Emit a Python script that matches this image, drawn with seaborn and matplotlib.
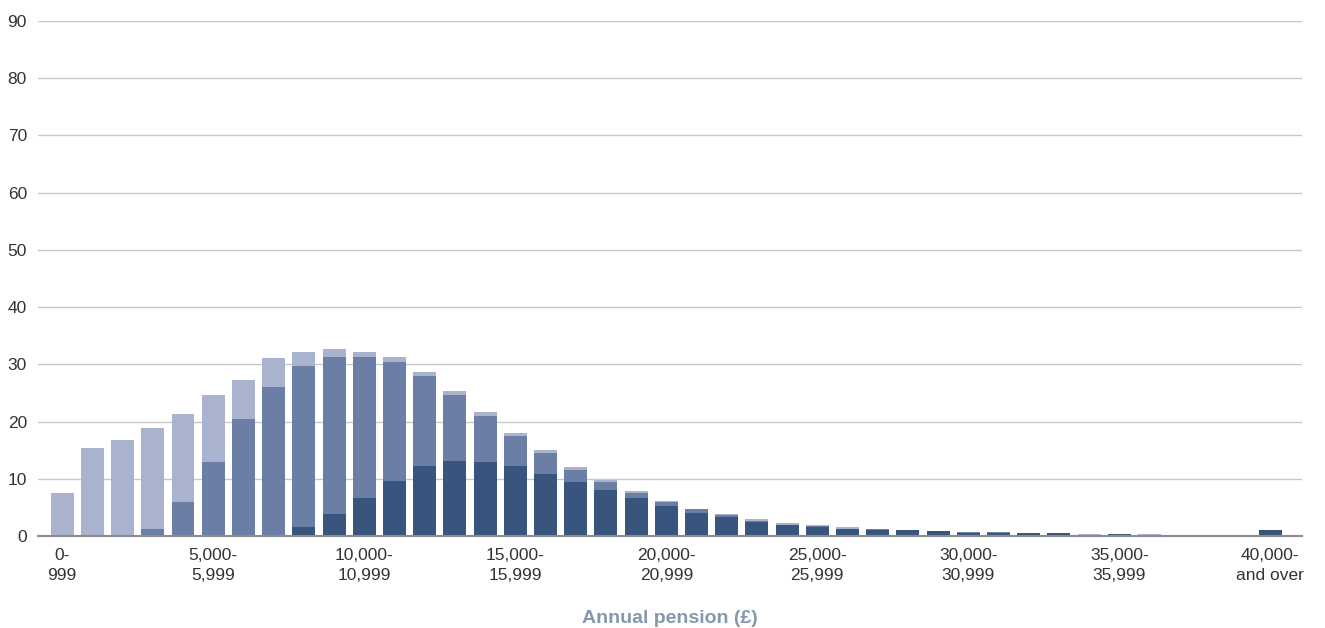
import numpy as np
import pandas as pd
import matplotlib
matplotlib.use("Agg")
import matplotlib.pyplot as plt
import seaborn as sns

# Category bands (£1,000 wide) and tick labels
categories = [f"{i*1000}-{i*1000+999}" for i in range(40)] + ["40000+"]
tick_positions = [0, 5, 10, 15, 20, 25, 30, 35, 40]
tick_labels = ["0-\n999", "5,000-\n5,999", "10,000-\n10,999", "15,000-\n15,999",
               "20,000-\n20,999", "25,000-\n25,999", "30,000-\n30,999",
               "35,000-\n35,999", "40,000-\nand over"]

# Segment heights (bottom: dark, middle: medium, top: light)
dark = [0, 0, 0, 0, 0, 0, 0, 0.2, 1.5, 3.8, 6.6, 9.6, 12.2, 13.1, 12.9, 12.2, 10.8,
        9.4, 8.0, 6.6, 5.2, 4.1, 3.3, 2.4, 1.9, 1.5, 1.2, 1.1, 1.0, 0.8, 0.6, 0.6,
        0.5, 0.5, 0.15, 0.3, 0.05, 0.1, 0.1, 0.05, 1.0]
middle = [0, 0, 0, 1.2, 5.9, 12.9, 20.4, 25.8, 28.2, 27.5, 24.7, 20.8, 15.7, 11.5,
          8.0, 5.2, 3.7, 2.1, 1.4, 1.0, 0.7, 0.6, 0.3, 0.3, 0.1, 0.2, 0.1, 0.05,
          0.0, 0.0, 0.05, 0.05, 0, 0, 0.05, 0, 0.05, 0, 0, 0, 0]
light = [7.6, 15.3, 16.7, 17.6, 15.4, 11.7, 6.8, 5.1, 2.4, 1.4, 0.8, 0.9, 0.7, 0.7,
         0.7, 0.6, 0.5, 0.5, 0.3, 0.2, 0.2, 0.1, 0.2, 0.2, 0.2, 0.2, 0.2, 0.05,
         0.05, 0.05, 0.05, 0.05, 0.05, 0.05, 0.15, 0.05, 0.25, 0.05, 0.05, 0.1, 0.05]

c_light = "#a9b3ce"
c_mid = "#6b7fa6"
c_dark = "#38557e"

df = pd.DataFrame({"cat": categories, "dark": dark, "middle": middle, "light": light})
df["lvl2"] = df["dark"] + df["middle"]
df["lvl3"] = df["lvl2"] + df["light"]

sns.set_theme(style="white")
plt.rcParams["font.family"] = ["Liberation Sans", "DejaVu Sans"]

fig = plt.figure(figsize=(13.25, 6.28), dpi=100)
ax = fig.add_axes([0.0287, 0.1465, 0.954, 0.8201])

kw = dict(x="cat", order=categories, width=0.76, saturation=1, ax=ax, zorder=3,
          linewidth=0, edgecolor="none")
sns.barplot(data=df, y="lvl3", color=c_light, **kw)
sns.barplot(data=df, y="lvl2", color=c_mid, **kw)
sns.barplot(data=df, y="dark", color=c_dark, **kw)

ax.set_ylim(0, 90)
ax.set_yticks(range(0, 91, 10))
ax.set_xlim(-0.8, 41.05)
ax.set_xticks(tick_positions)
ax.set_xticklabels(tick_labels, multialignment="center", fontsize=12.5, color="#333333",
                   linespacing=1.35)
ax.tick_params(axis="y", labelsize=12.5, colors="#333333", length=0, pad=8)
ax.tick_params(axis="x", length=0, pad=9)

ax.yaxis.grid(True, color="#c8c8c8", linewidth=1, zorder=0)
ax.set_axisbelow(True)
for s in ["left", "right", "top"]:
    ax.spines[s].set_visible(False)
ax.spines["bottom"].set_color("#8c8c8c")
ax.spines["bottom"].set_linewidth(1.5)
ax.spines["bottom"].set_zorder(4)

ax.set_ylabel("")
ax.set_xlabel("Annual pension (£)", fontsize=14, fontweight="bold", color="#8598ae",
              labelpad=20)

fig.savefig("out.png", dpi=100)
